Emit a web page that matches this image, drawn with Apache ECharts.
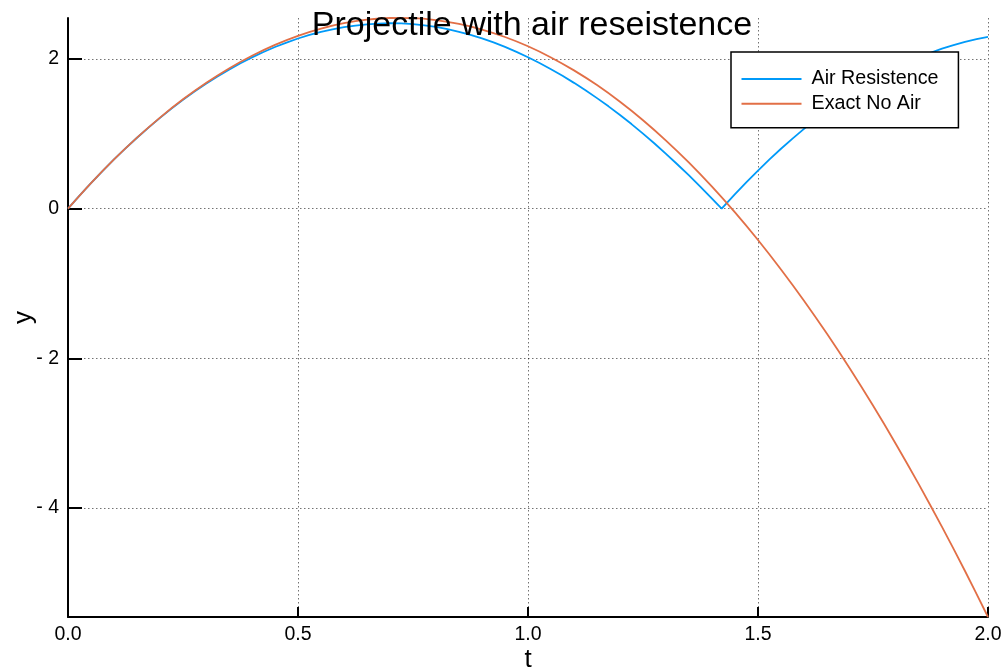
<!DOCTYPE html>
<html>
<head>
<meta charset="utf-8">
<script src="https://cdn.jsdelivr.net/npm/echarts@6/dist/echarts.min.js"></script>
<style>
html,body{margin:0;padding:0;background:#fff;}
#chart{width:1005px;height:671px;}
</style>
</head>
<body>
<div id="chart"></div>
<script>
// ---- data ----
const chartTitle = 'Projectile with air reseistence';
const xName = 't';
const yName = 'y';
const seriesNames = ['Air Resistence', 'Exact No Air'];

const xTicks = [0, 0.5, 1.0, 1.5, 2.0];
const yTicks = [-4, -2, 0, 2];

// Air resistance curve (with bounce near t = 1.421)
const tAir = [0, 0.025, 0.05, 0.075, 0.1, 0.125, 0.15, 0.175, 0.2, 0.225, 0.25, 0.275, 0.3, 0.325, 0.35, 0.375, 0.4, 0.425, 0.45, 0.475, 0.5, 0.525, 0.55, 0.575, 0.6, 0.625, 0.65, 0.675, 0.7, 0.725, 0.75, 0.775, 0.8, 0.825, 0.85, 0.875, 0.9, 0.925, 0.95, 0.975, 1.0, 1.025, 1.05, 1.075, 1.1, 1.125, 1.15, 1.175, 1.2, 1.225, 1.25, 1.275, 1.3, 1.325, 1.35, 1.375, 1.4, 1.421, 1.45, 1.475, 1.5, 1.525, 1.55, 1.575, 1.6, 1.625, 1.65, 1.675, 1.7, 1.725, 1.75, 1.775, 1.8, 1.825, 1.85, 1.875, 1.9, 1.925, 1.95, 1.975, 2.0];
const yAir = [0, 0.174, 0.341, 0.503, 0.658, 0.806, 0.948, 1.084, 1.214, 1.338, 1.455, 1.565, 1.669, 1.767, 1.859, 1.944, 2.022, 2.095, 2.161, 2.221, 2.275, 2.322, 2.364, 2.398, 2.427, 2.448, 2.465, 2.474, 2.479, 2.476, 2.467, 2.451, 2.429, 2.401, 2.365, 2.324, 2.276, 2.222, 2.162, 2.096, 2.024, 1.947, 1.864, 1.776, 1.682, 1.583, 1.478, 1.368, 1.252, 1.131, 1.004, 0.871, 0.733, 0.591, 0.444, 0.292, 0.136, 0.0, 0.195, 0.355, 0.510, 0.659, 0.801, 0.937, 1.067, 1.190, 1.308, 1.419, 1.524, 1.622, 1.715, 1.801, 1.881, 1.955, 2.022, 2.083, 2.139, 2.187, 2.230, 2.267, 2.297];

// Exact, no air
const tNoAir = [0, 0.05, 0.1, 0.15, 0.2, 0.25, 0.3, 0.35, 0.4, 0.45, 0.5, 0.55, 0.6, 0.65, 0.7, 0.75, 0.8, 0.85, 0.9, 0.95, 1.0, 1.05, 1.1, 1.15, 1.2, 1.25, 1.3, 1.35, 1.4, 1.45, 1.5, 1.55, 1.6, 1.65, 1.7, 1.75, 1.8, 1.85, 1.9, 1.95, 2.0];
const yNoAir = [0, 0.341, 0.658, 0.950, 1.218, 1.462, 1.680, 1.875, 2.044, 2.190, 2.311, 2.407, 2.479, 2.526, 2.549, 2.547, 2.521, 2.470, 2.395, 2.295, 2.171, 2.022, 1.849, 1.652, 1.429, 1.183, 0.911, 0.616, 0.295, -0.049, -0.418, -0.812, -1.230, -1.673, -2.140, -2.632, -3.148, -3.689, -4.254, -4.843, -5.458];

// ---- chart ----
const FONT = '"Liberation Sans", Arial, Helvetica, sans-serif';
const allY = yAir.concat(yNoAir);
const yMin = Math.min.apply(null, allY);
const yMax = Math.max.apply(null, allY);
const gridLine = { show: true, lineStyle: { color: 'rgba(0,0,0,0.55)', width: 1, type: [1.5, 2.5] } };

const chart = echarts.init(document.getElementById('chart'), null, { renderer: 'canvas' });
chart.setOption({
  animation: false,
  backgroundColor: '#ffffff',
  title: {
    text: chartTitle,
    left: 532,
    top: 9,
    textAlign: 'center',
    padding: 0,
    textStyle: { fontFamily: FONT, fontSize: 34, fontWeight: 'normal', color: '#000' }
  },
  legend: {
    orient: 'vertical',
    left: 731,
    top: 52,
    padding: [16, 20, 13, 10.5],
    icon: 'rect',
    itemWidth: 60,
    itemHeight: 2,
    itemGap: 2.7,
    borderColor: '#000',
    borderWidth: 1.5,
    backgroundColor: '#fff',
    data: seriesNames,
    textStyle: { fontFamily: FONT, fontSize: 19.7, color: '#000', lineHeight: 22, padding: [0, 0, 0, 5] }
  },
  grid: { left: 68, right: 17, top: 18, bottom: 54, containLabel: false, outerBoundsMode: 'none' },
  xAxis: {
    type: 'value',
    min: xTicks[0],
    max: xTicks[xTicks.length - 1],
    interval: 0.5,
    name: xName,
    nameLocation: 'middle',
    nameGap: 30,
    nameMoveOverlap: false,
    nameTextStyle: { fontFamily: FONT, fontSize: 26, color: '#000' },
    axisLine: { show: true, onZero: false, lineStyle: { color: '#000', width: 2 } },
    axisTick: { show: true, inside: true, length: 10, lineStyle: { color: '#000', width: 2 } },
    axisLabel: {
      fontFamily: FONT, fontSize: 19.5, color: '#000', margin: 8,
      formatter: v => v.toFixed(1)
    },
    splitLine: gridLine
  },
  yAxis: {
    type: 'value',
    min: yMin,
    max: yMax,
    name: yName,
    nameLocation: 'middle',
    nameRotate: 90,
    nameGap: 31,
    nameMoveOverlap: false,
    nameTextStyle: { fontFamily: FONT, fontSize: 26, color: '#000' },
    axisLine: { show: true, onZero: false, lineStyle: { color: '#000', width: 2 } },
    axisTick: { show: true, inside: true, length: 14, customValues: yTicks, lineStyle: { color: '#000', width: 2 } },
    axisLabel: {
      fontFamily: FONT, fontSize: 19.5, color: '#000', margin: 9,
      customValues: yTicks,
      hideOverlap: false,
      formatter: v => (v < 0 ? '- ' + Math.abs(v) : String(v))
    },
    splitLine: gridLine
  },
  series: [
    {
      name: seriesNames[0],
      type: 'line',
      data: tAir.map((t, i) => [t, yAir[i]]),
      symbol: 'none',
      showSymbol: false,
      smooth: false,
      lineStyle: { color: '#009AF9', width: 1.8 },
      itemStyle: { color: '#009AF9' },
      z: 3
    },
    {
      name: seriesNames[1],
      type: 'line',
      data: tNoAir.map((t, i) => [t, yNoAir[i]]),
      symbol: 'none',
      showSymbol: false,
      smooth: 0.3,
      lineStyle: { color: '#E26F46', width: 1.8 },
      itemStyle: { color: '#E26F46' },
      z: 4
    }
  ]
});
</script>
</body>
</html>
